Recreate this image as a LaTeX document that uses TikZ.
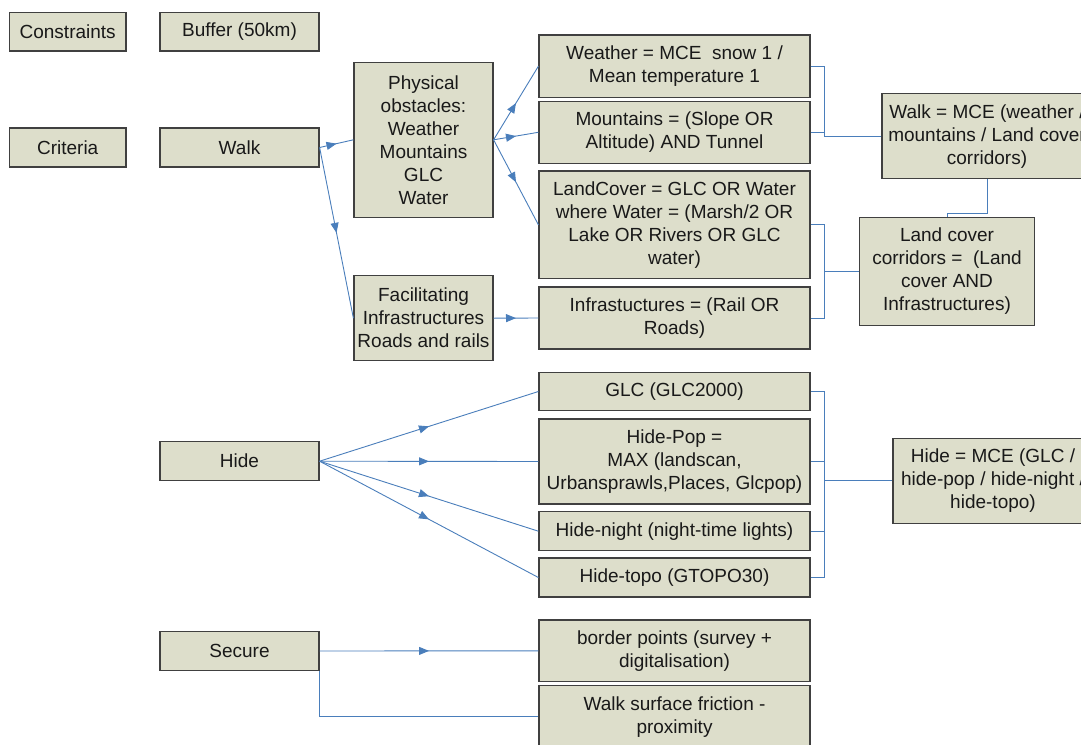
\documentclass[tikz,border=0pt]{standalone}
\usepackage{fontspec}
\setmainfont{Liberation Sans}
\usetikzlibrary{arrows.meta,decorations.markings}
\definecolor{boxfill}{RGB}{221,222,203}
\definecolor{boxline}{RGB}{64,64,64}
\definecolor{linkblue}{RGB}{74,126,187}

\begin{document}
\begin{tikzpicture}[x=1pt,y=-1pt,
   box/.style={draw=boxline,fill=boxfill,line width=1.2pt,align=center,inner sep=0pt,
      font=\fontsize{19}{23}\selectfont,text=black!90},
   link/.style={linkblue,line width=0.9pt},
   midarrow/.style={link,postaction={decorate},decoration={markings,
      mark=at position .5 with {\arrow{Triangle[length=10pt,width=8pt]}}}}]
   \useasboundingbox (0,0) rectangle (1081,744);
   \clip (0,0) rectangle (1081,744);

   \node[box,minimum width=116.7pt,minimum height=38.7pt] (cons) at (67.7,31.7) {Constraints};
   \node[box,minimum width=159pt,minimum height=38.7pt] (buf) at (239.5,31.7) {Buffer (50km)};
   \node[box,minimum width=116.7pt,minimum height=39pt] (crit) at (67.7,147.5) {Criteria};
   \node[box,minimum width=159pt,minimum height=39pt] (walk) at (239.5,147.5) {Walk};
   \node[box,minimum width=159pt,minimum height=39pt] (hide) at (239.5,461.2) {Hide};
   \node[box,minimum width=159pt,minimum height=38.7pt] (secure) at (239.5,651) {Secure};

   \node[box,minimum width=139pt,minimum height=155pt] (phys) at (423.5,139.8)
      {Physical\\obstacles:\\Weather\\Mountains\\GLC\\Water};
   \node[box,minimum width=139pt,minimum height=85pt] (facil) at (423.5,318.2)
      {Facilitating\\Infrastructures\\Roads and rails};

   \node[box,minimum width=271pt,minimum height=62.3pt] (weather) at (674.5,66.2)
      {Weather = MCE\ \ snow 1 /\\Mean temperature 1};
   \node[box,minimum width=271pt,minimum height=62pt] (mount) at (674.5,132.3)
      {Mountains = (Slope OR\\Altitude) AND Tunnel};
   \node[box,minimum width=271pt,minimum height=107.7pt] (landc) at (674.5,224.8)
      {LandCover = GLC OR Water\\where Water = (Marsh/2 OR\\Lake OR Rivers OR GLC\\water)};
   \node[box,minimum width=271pt,minimum height=62pt] (infra) at (674.5,318)
      {Infrastuctures = (Rail OR\\Roads)};
   \node[box,minimum width=271pt,minimum height=38.3pt] (glc) at (674.5,391.5) {GLC (GLC2000)};
   \node[box,minimum width=271pt,minimum height=85pt] (pop) at (674.5,461.5)
      {Hide-Pop =\\MAX (landscan,\\Urbansprawls,Places, Glcpop)};
   \node[box,minimum width=271pt,minimum height=39pt] (night) at (674.5,531.2)
      {Hide-night (night-time lights)};
   \node[box,minimum width=271pt,minimum height=39pt] (topo) at (674.5,577.5)
      {Hide-topo (GTOPO30)};
   \node[box,minimum width=271pt,minimum height=61.7pt] (border) at (674.5,650.8)
      {border points (survey +\\digitalisation)};
   \node[box,minimum width=271pt,minimum height=62pt] (friction) at (674.5,716.7)
      {Walk surface friction -\\proximity};

   \node[box,minimum width=210pt,minimum height=85pt] (walkmce) at (987,136.2)
      {Walk = MCE (weather /\\mountains / Land cover\\corridors)};
   \node[box,minimum width=175pt,minimum height=108pt] (corr) at (947,271.3)
      {Land cover\\corridors =\ \ (Land\\cover AND\\Infrastructures)};
   \node[box,minimum width=200pt,minimum height=85pt] (hidemce) at (993,480.8)
      {Hide = MCE (GLC /\\hide-pop / hide-night /\\hide-topo)};

   \coordinate (wk) at (824.5,136.2);
   \coordinate (wc) at (947,213.3);
   \coordinate (lc) at (824.5,271.3);
   \coordinate (hb) at (824.5,480.8);

   \draw[midarrow] (walk.east) -- (phys.west);
   \draw[midarrow] (walk.east) -- (facil.west);
   \draw[midarrow] (phys.east) -- (weather.west);
   \draw[midarrow] (phys.east) -- (mount.west);
   \draw[midarrow] (phys.east) -- (landc.west);
   \draw[midarrow] (facil.east) -- (infra.west);

   \draw[link] (weather.east) -| (wk) -- (walkmce.west);
   \draw[link] (mount.east) -- (mount.east -| wk);
   \draw[link] (walkmce.south) |- (wc) -- (corr.north);
   \draw[link] (landc.east) -| (lc) -- (corr.west);
   \draw[link] (infra.east) -| (lc);

   \draw[midarrow] (hide.east) -- (glc.west);
   \draw[midarrow] (hide.east) -- (pop.west);
   \draw[midarrow] (hide.east) -- (night.west);
   \draw[midarrow] (hide.east) -- (topo.west);
   \draw[link] (glc.east) -| (hb) -- (hidemce.west);
   \draw[link] (topo.east) -| (hb);
   \draw[link] (pop.east) -- (pop.east -| hb);
   \draw[link] (night.east) -- (night.east -| hb);

   \draw[midarrow] (secure.east) -- (border.west);
   \draw[link] (secure.south east) |- (friction.west);
\end{tikzpicture}
\end{document}
